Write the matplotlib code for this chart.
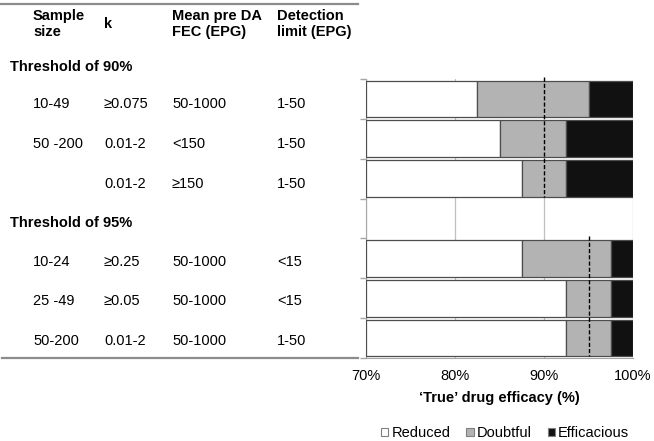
import numpy as np
import matplotlib
matplotlib.use("Agg")
import matplotlib.pyplot as plt
from matplotlib.patches import Patch
from matplotlib.lines import Line2D

plt.rcParams["font.family"] = ["Liberation Sans", "DejaVu Sans"]

# rows of the chart (row 3 is the "Threshold of 95%" header, no bar)
reduced_end = [82.5, 85.0, 87.5, np.nan, 87.5, 92.5, 92.5]
doubtful_end = [95.0, 92.5, 92.5, np.nan, 97.5, 97.5, 97.5]
efficacious_end = [100, 100, 100, np.nan, 100, 100, 100]
x_start = 70
thresholds = [90, 95]
threshold_rows = [(0, 2), (4, 6)]

headers = ["Sample\nsize", "k", "Mean pre DA\nFEC (EPG)", "Detection\nlimit (EPG)"]
sample_size = ["10-49", "50 -200", "", "", "10-24", "25 -49", "50-200"]
k_vals = ["\u22650.075", "0.01-2", "0.01-2", "", "\u22650.25", "\u22650.05", "0.01-2"]
mean_fec = ["50-1000", "<150", "\u2265150", "", "50-1000", "50-1000", "50-1000"]
det_limit = ["1-50", "1-50", "1-50", "", "<15", "<15", "1-50"]
section_labels = ["Threshold of 90%", "Threshold of 95%"]

xticks = [70, 80, 90, 100]
xticklabels = ["70%", "80%", "90%", "100%"]

W, H = 654, 441
fig = plt.figure(figsize=(W / 100, H / 100), dpi=100)


def fx(px):
    return px / W


def fy(py):
    return 1 - py / H


ax = fig.add_axes([fx(366), fy(358), fx(633) - fx(366), fy(79) - fy(358)])

rows = np.arange(len(reduced_end))
red = np.array(reduced_end)
dou = np.array(doubtful_end)
eff = np.array(efficacious_end)
bh = 0.92
ec = "#4d4d4d"
ax.barh(rows, red - x_start, left=x_start, height=bh, color="white",
        edgecolor=ec, linewidth=0.9, zorder=3)
ax.barh(rows, dou - red, left=red, height=bh, color="#b3b3b3",
        edgecolor=ec, linewidth=0.9, zorder=3)
ax.barh(rows, eff - dou, left=dou, height=bh, color="#111111",
        edgecolor=ec, linewidth=0.9, zorder=3)

for t, (r0, r1) in zip(thresholds, threshold_rows):
    ax.plot([t, t], [r0 - 0.55, r1 + bh / 2], color="black", lw=1.0,
            ls=(0, (3, 1.5)), zorder=5, clip_on=False)

ax.set_xlim(70, 100)
ax.set_ylim(6.5, -0.5)
ax.set_xticks(xticks)
ax.set_xticklabels(xticklabels, fontsize=10.5)
ax.set_yticks(np.arange(-0.5, 7, 1))
ax.set_yticklabels([])
ax.tick_params(axis="x", length=0, pad=8)
ax.tick_params(axis="y", length=4, color="#a6a6a6", width=1)
ax.grid(axis="x", color="#bfbfbf", lw=0.9, zorder=0)
for s in ["top", "right"]:
    ax.spines[s].set_visible(False)
ax.spines["left"].set_color("#a6a6a6")
ax.spines["bottom"].set_color("#a6a6a6")
ax.set_xlabel("\u2018True\u2019 drug efficacy (%)", fontsize=10.5,
              fontweight="bold", labelpad=6)

# table on the left
fig.add_artist(Line2D([fx(0), fx(358)], [fy(3.5), fy(3.5)], color="#8c8c8c", lw=1.6))
fig.add_artist(Line2D([fx(2), fx(358)], [fy(357.5), fy(357.5)], color="#8c8c8c", lw=1.6))

col_x = [33, 104, 172, 277]
for x, h in zip(col_x, headers):
    fig.text(fx(x), fy(24), h, fontsize=10.5, fontweight="bold",
             va="center", ha="left", linespacing=1.25)

row_y = [104, 144, 184, 223, 262, 301, 341]
fig.text(fx(10), fy(67), section_labels[0], fontsize=10.5, fontweight="bold", va="center")
fig.text(fx(10), fy(row_y[3]), section_labels[1], fontsize=10.5, fontweight="bold", va="center")
for i, y in enumerate(row_y):
    for x, col in zip(col_x, [sample_size, k_vals, mean_fec, det_limit]):
        if col[i]:
            fig.text(fx(x), fy(y), col[i], fontsize=10.5, va="center", ha="left")

handles = [Patch(facecolor="white", edgecolor="#808080", lw=0.8),
           Patch(facecolor="#b3b3b3", edgecolor="#808080", lw=0.8),
           Patch(facecolor="#111111", edgecolor="#808080", lw=0.8)]
fig.legend(handles, ["Reduced", "Doubtful", "Efficacious"], loc="center",
           bbox_to_anchor=(fx(505), fy(433)), ncol=3, frameon=False,
           fontsize=10.5, handlelength=0.5, handleheight=0.5,
           handletextpad=0.2, columnspacing=1.1)

fig.savefig("out.png", dpi=100)
